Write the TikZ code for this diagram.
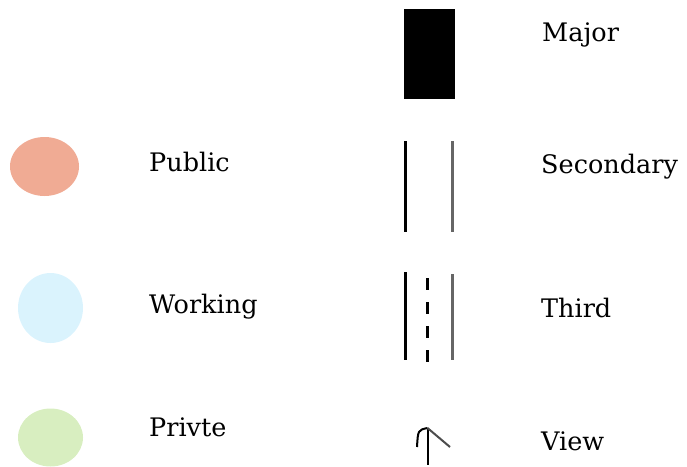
\documentclass[tikz,border=0pt]{standalone}
\usepackage{fontspec}
\setmainfont{DejaVu Serif}
\definecolor{pubc}{HTML}{F0AB94}
\definecolor{workc}{HTML}{DAF3FD}
\definecolor{privc}{HTML}{D8EEC0}
\definecolor{grayline}{HTML}{666666}
\tikzset{
  lbl/.style={anchor=base west, inner sep=0pt, font=\fontsize{25.5}{30}\selectfont},
  blob/.style={draw=none, ellipse, inner sep=0pt},
  blackline/.style={line width=3pt, black},
  grayl/.style={line width=3pt, grayline},
}
\usetikzlibrary{shapes.geometric}
\begin{document}
\begin{tikzpicture}[x=1pt,y=-1pt]
\useasboundingbox (0,0) rectangle (687,466);
% blobs
\node[blob, fill=pubc, minimum width=69pt, minimum height=59pt] (pub) at (44.5,166.5) {};
\node[blob, fill=workc, minimum width=65pt, minimum height=70pt] (work) at (50.5,308) {};
\node[blob, fill=privc, minimum width=65pt, minimum height=58pt] (priv) at (50.5,437.5) {};
% major
\node[draw=none, fill=black, minimum width=51pt, minimum height=90pt, inner sep=0pt] (major) at (429.5,54) {};
% secondary
\coordinate (s1a) at (405.5,141); \coordinate (s1b) at (405.5,232);
\coordinate (s2a) at (452.5,141); \coordinate (s2b) at (452.5,232);
\draw[blackline] (s1a) -- (s1b);
\draw[grayl] (s2a) -- (s2b);
% third
\coordinate (t1a) at (405.5,272); \coordinate (t1b) at (405.5,360);
\coordinate (t2a) at (452.5,274); \coordinate (t2b) at (452.5,360);
\coordinate (t3a) at (427.5,278); \coordinate (t3b) at (427.5,364);
\draw[blackline] (t1a) -- (t1b);
\draw[grayl] (t2a) -- (t2b);
\draw[line width=2.5pt, black, dash pattern=on 12pt off 12pt] (t3a) -- (t3b);
% view arrow
\coordinate (vtip) at (427.5,428);
\coordinate (vend) at (427.5,465);
\coordinate (vl) at (417,447);
\coordinate (vr) at (450,447);
\draw[line width=2pt, black] (vtip) -- (vend);
\draw[line width=2pt, black] (vtip) .. controls (418,430) .. (vl);
\draw[line width=2pt, black!70] (vtip) -- (vr);
% labels
\node[lbl] (tmajor) at (542,41) {Major};
\node[lbl] (tpub) at (149,171) {Public};
\node[lbl] (tsec) at (541,173) {Secondary};
\node[lbl] (twork) at (149,313) {Working};
\node[lbl] (tthird) at (541,317) {Third};
\node[lbl] (tpriv) at (149,436) {Privte};
\node[lbl] (tview) at (541,450) {View};
\end{tikzpicture}
\end{document}
